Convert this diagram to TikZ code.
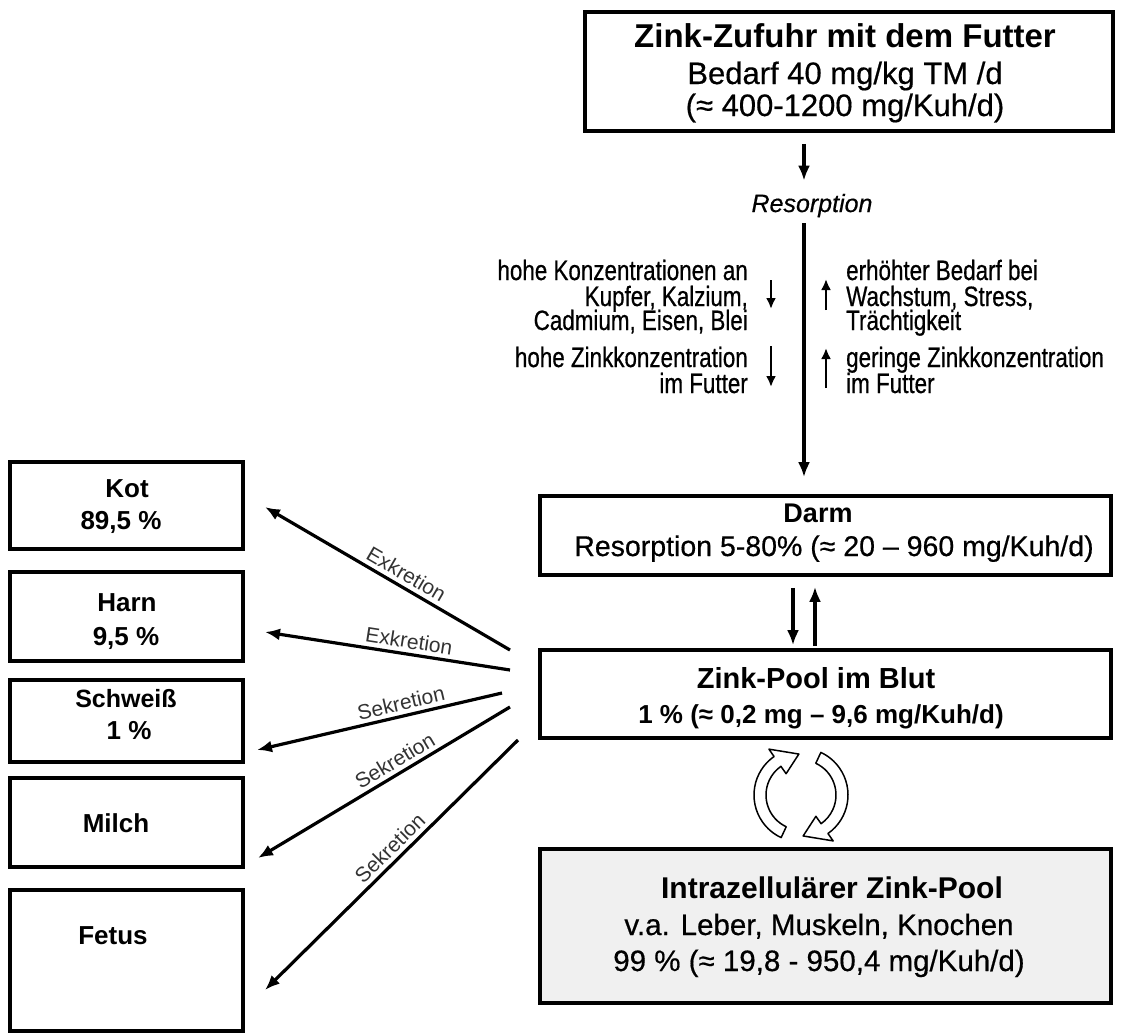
\documentclass[tikz,border=0pt]{standalone}
\usepackage{fontspec}
\setmainfont{Liberation Sans}
\newfontfamily\narrowfont[FakeStretch=0.8,FakeBold=0.6]{Liberation Sans}
\newfontfamily\medfont[FakeBold=0.5]{Liberation Sans}
\usetikzlibrary{arrows.meta}
\definecolor{labelgray}{HTML}{333333}
\definecolor{poolgray}{HTML}{F0F0F0}
\begin{document}
\begin{tikzpicture}[x=1pt,y=-1pt,
  box/.style={draw, line width=3.6pt, inner sep=0pt},
  arr/.style={line width=3.2pt, -{Latex[length=15pt,width=12pt]}},
  smallarr/.style={line width=2.8pt, -{Latex[length=11pt,width=10pt]}},
  lbl/.style={font=\fontsize{21}{24}\selectfont, text=labelgray, inner sep=4pt},
  tb/.style={font=\fontsize{#1}{#1}\selectfont\bfseries, inner sep=0pt, anchor=base},
  tr/.style={font=\fontsize{#1}{#1}\medfont, inner sep=0pt, anchor=base},
  nl/.style={font=\fontsize{28}{28}\narrowfont, inner sep=0pt, anchor=base east},
  nr/.style={font=\fontsize{28}{28}\narrowfont, inner sep=0pt, anchor=base west},
  circarrow/.style={draw=black, line width=1.5pt, fill=white, line join=round}
]
\useasboundingbox (0,0) rectangle (1127,1034);

% ---------- right column boxes ----------
\node[box, minimum width=528pt, minimum height=119pt] (top) at (849,71.5) {};
\node[tb=33] (topT1) at (845,47) {Zink-Zufuhr mit dem Futter};
\node[tr=31] (topT2) at (845,84) {Bedarf 40 mg/kg TM /d};
\node[tr=31] (topT3) at (845,116) {(≈ 400-1200 mg/Kuh/d)};

\node[font=\fontsize{25}{25}\medfont\itshape, inner sep=3pt, anchor=base] (res) at (812,212) {Resorption};

\node[box, minimum width=571pt, minimum height=79pt] (darm) at (825.5,535.5) {};
\node[tb=27] (darmT1) at (818,522) {Darm};
\node[tr=28.5] (darmT2) at (834,556) {Resorption 5-80\% (≈ 20 – 960 mg/Kuh/d)};

\node[box, minimum width=571pt, minimum height=88pt] (blut) at (825.5,694) {};
\node[tb=29] (blutT1) at (816,688) {Zink-Pool im Blut};
\node[tb=26] (blutT2) at (821,723) {1 \% (≈ 0,2 mg – 9,6 mg/Kuh/d)};

\node[box, fill=poolgray, minimum width=571pt, minimum height=154pt] (intra) at (825.5,926) {};
\node[tb=30] (intraT1) at (832,898) {Intrazellulärer Zink-Pool};
\node[tr=29.5] (intraT2) at (819,935) {v.a. Leber, Muskeln, Knochen};
\node[tr=29.5] (intraT3) at (819,971) {99 \% (≈ 19,8 - 950,4 mg/Kuh/d)};

% ---------- left column boxes ----------
\node[box, minimum width=233pt, minimum height=87pt] (kot) at (126.5,505.5) {};
\node[tb=26] (kotT1) at (127,497) {Kot};
\node[tb=26] (kotT2) at (121,529) {89,5 \%};

\node[box, minimum width=233pt, minimum height=89pt] (harn) at (126.5,616.5) {};
\node[tb=26] (harnT1) at (127,611) {Harn};
\node[tb=26] (harnT2) at (126,645) {9,5 \%};

\node[box, minimum width=233pt, minimum height=82pt] (schweiss) at (126.5,721) {};
\node[tb=25] (schweissT1) at (126,707) {Schweiß};
\node[tb=26] (schweissT2) at (129,739) {1 \%};

\node[box, minimum width=233pt, minimum height=89pt] (milch) at (126.5,822.5) {};
\node[tb=26] (milchT1) at (116,832) {Milch};

\node[box, minimum width=233pt, minimum height=141pt] (fetus) at (126.5,960.5) {};
\node[tb=26] (fetusT1) at (113,944) {Fetus};

% ---------- middle influence texts ----------
\node[nl] (a1) at (748,280) {hohe Konzentrationen an};
\node[nl] (a2) at (748,306) {Kupfer, Kalzium,};
\node[nl] (a3) at (748,330) {Cadmium, Eisen, Blei};
\node[nl] (a4) at (748,367) {hohe Zinkkonzentration};
\node[nl] (a5) at (748,393) {im Futter};
\node[nr] (b1) at (846,280) {erhöhter Bedarf bei};
\node[nr] (b2) at (846,306) {Wachstum, Stress,};
\node[nr] (b3) at (846,330) {Trächtigkeit};
\node[nr] (b4) at (846,367) {geringe Zinkkonzentration};
\node[nr] (b5) at (846,393) {im Futter};

\coordinate (d1s) at (771,280); \coordinate (d1e) at (771,309);
\coordinate (u1s) at (826,310); \coordinate (u1e) at (826,279);
\coordinate (d2s) at (771,346); \coordinate (d2e) at (771,387);
\coordinate (u2s) at (826,388); \coordinate (u2e) at (826,348);
\draw[smallarr] (d1s) -- (d1e);
\draw[smallarr] (u1s) -- (u1e);
\draw[smallarr] (d2s) -- (d2e);
\draw[smallarr] (u2s) -- (u2e);

% ---------- main vertical flow ----------
\coordinate (xm) at (804,0);
\draw[arr, shorten <=11pt, shorten >=10pt] (top.south -| xm) -- (res.north -| xm);
\draw[arr, shorten <=3pt, shorten >=17pt] (res.south -| xm) -- (darm.north -| xm);

\coordinate (xd) at (793,0);
\coordinate (xu) at (815,0);
\draw[arr, shorten <=11pt, shorten >=3pt] (darm.south -| xd) -- (blut.north -| xd);
\draw[arr, shorten <=2pt, shorten >=10pt] (blut.north -| xu) -- (darm.south -| xu);

% ---------- excretion / secretion arrows ----------
\coordinate (s1) at (510,650); \coordinate (e1) at (265,507);
\coordinate (s2) at (510,670); \coordinate (e2) at (265,632);
\coordinate (s3) at (502,693); \coordinate (e3) at (257,750);
\coordinate (s4) at (510,707); \coordinate (e4) at (258,858);
\coordinate (s5) at (518,740); \coordinate (e5) at (265,990);
\draw[arr] (s1) -- node[lbl, sloped, above, pos=0.45] (l1) {Exkretion} (e1);
\draw[arr] (s2) -- node[lbl, sloped, above, pos=0.42] (l2) {Exkretion} (e2);
\draw[arr] (s3) -- node[lbl, sloped, above, pos=0.40] (l3) {Sekretion} (e3);
\draw[arr] (s4) -- node[lbl, sloped, above, pos=0.43] (l4) {Sekretion} (e4);
\draw[arr] (s5) -- node[lbl, sloped, above, pos=0.47] (l5) {Sekretion} (e5);

% ---------- circular exchange arrows ----------
\begin{scope}[shift={(801,795)}, yscale=-1]
  \draw[circarrow] (245:35) arc[start angle=245, end angle=125, radius=35]
     -- (125:26) -- (93:41) -- (125:56) -- (125:47)
     arc[start angle=125, end angle=245, radius=47] -- cycle;
  \draw[circarrow] (65:35) arc[start angle=65, end angle=-55, radius=35]
     -- (-55:26) -- (-87:41) -- (-55:56) -- (-55:47)
     arc[start angle=-55, end angle=65, radius=47] -- cycle;
\end{scope}
\end{tikzpicture}
\end{document}
